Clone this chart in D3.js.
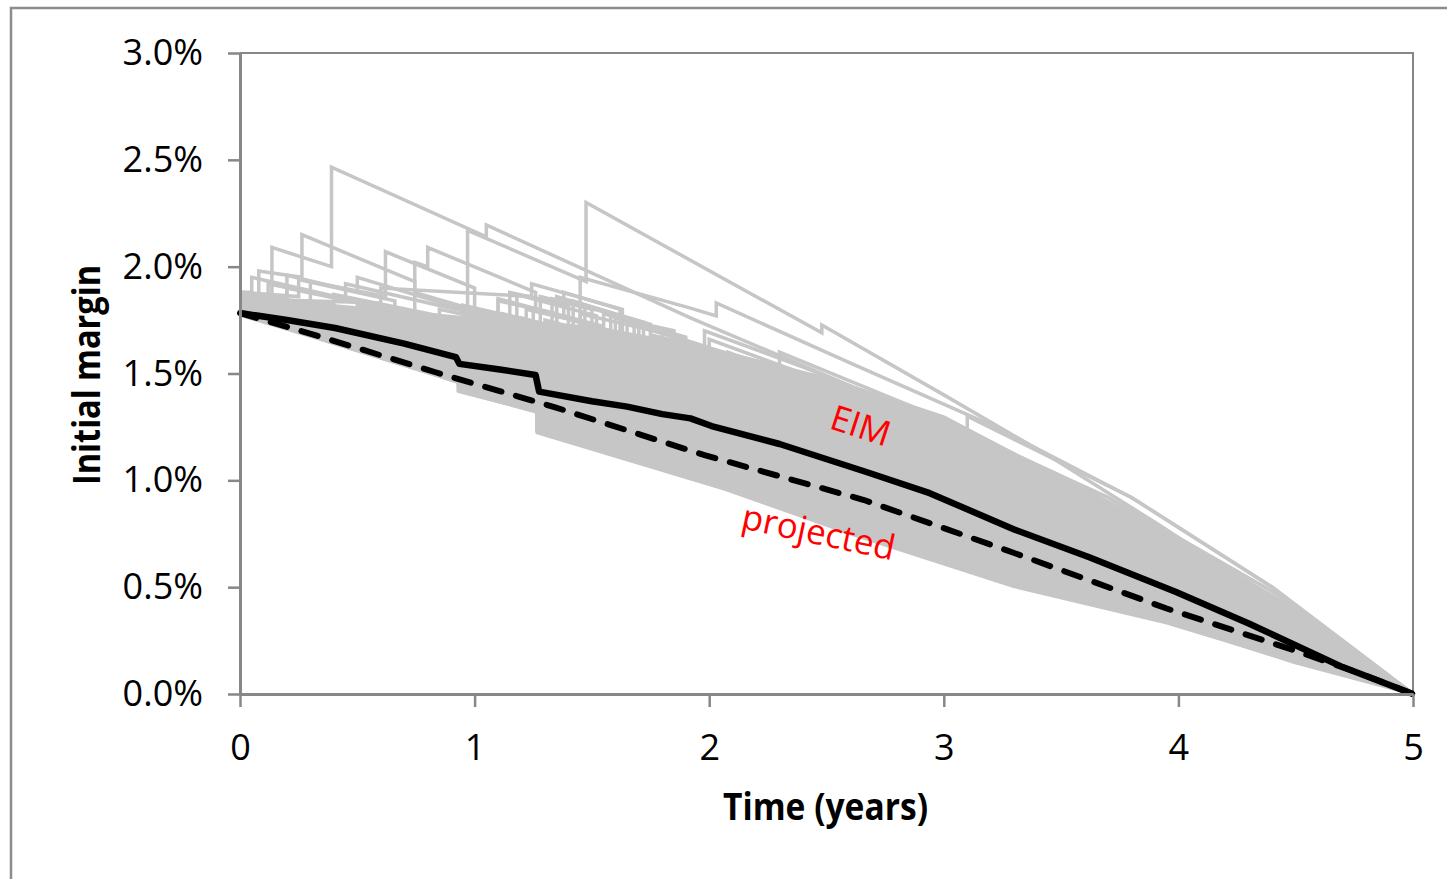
<!DOCTYPE html>
<html>
<head>
<meta charset="utf-8">
<script src="https://cdn.jsdelivr.net/npm/d3@7"></script>
<style>
  html, body { margin: 0; padding: 0; background: #fff; }
  svg { display: block; }
</style>
</head>
<body>
<svg id="chart" width="1447" height="879"></svg>
<script>
// ---------------- DATA (time in years, initial margin in %) ----------------
const xTickValues = [0, 1, 2, 3, 4, 5];
const yTickValues = [0, 0.5, 1.0, 1.5, 2.0, 2.5, 3.0];

// Black solid: EIM (expected initial margin)
const eimSeries = [[0,1.783],[0.2,1.75],[0.405,1.713],[0.7,1.64],[0.92,1.577],[0.935,1.545],[1.1,1.52],
  [1.26,1.493],[1.275,1.415],[1.5,1.37],[1.65,1.345],[1.8,1.31],[1.92,1.29],[2.01,1.254],[2.3,1.17],[2.67,1.039],[2.94,0.94],
  [3.30,0.77],[3.62,0.64],[3.99,0.477],[4.3,0.33],[4.7,0.126],[5,0]];

// Black dashed: projected
const projectedSeries = [[0,1.783],[0.32,1.68],[0.83,1.507],[1.34,1.343],[1.98,1.118],[2.66,0.908],
  [3.30,0.66],[3.95,0.40],[4.49,0.206],[4.77,0.098],[5,0]];

// Dense core of the simulated paths (upper and lower edge)
const bandUpper = [[0,1.86],[0.5,1.81],[1.0,1.76],[1.5,1.72],[2.0,1.62],[2.5,1.48],[3.0,1.30],
  [3.47,1.03],[3.92,0.78],[4.35,0.48],[4.77,0.17],[5,0]];
const bandLower = [[0,1.77],[0.32,1.665],[0.83,1.49],[0.93,1.455],[0.93,1.413],[1.265,1.32],[1.265,1.22],
  [2.07,0.955],[2.62,0.74],[3.3,0.50],[3.95,0.33],[4.49,0.15],[5,0]];

// Individual simulated paths (grey)
const pathO1 = [[0,1.84],[0.136,1.80],[0.136,2.09],[0.39,2.0],[0.39,2.466],[1.05,2.14],[1.05,2.195],[1.92,1.76],[2.48,1.50],[3.0,1.25],[3.5,0.99],[4.0,0.68],[4.5,0.36],[5,0]];
const pathO2 = [[0,1.85],[0.08,1.84],[0.08,1.98],[0.264,1.95],[0.264,2.15],[0.745,1.93],[0.745,1.88],[1.8,1.54],[1.8,1.58],[2.8,1.20],[3.6,0.85],[4.3,0.45],[5,0]];
const pathO3 = [[0,1.83],[0.30,1.78],[0.30,1.93],[0.62,1.86],[0.62,2.07],[1.0,1.90],[1.0,1.80],[1.9,1.56],[2.6,1.30],[3.4,0.95],[4.1,0.58],[4.7,0.22],[5,0]];
const pathO4 = [[0,1.82],[0.745,1.72],[0.745,2.02],[0.80,2.0],[0.80,2.09],[1.26,1.88],[1.26,1.80],[2.2,1.50],[3.0,1.18],[3.7,0.86],[4.3,0.52],[5,0]];
const pathO5 = [[0,1.80],[0.97,1.70],[0.97,2.17],[1.475,1.93],[1.475,2.30],[2.48,1.69],[2.48,1.727],[3.0,1.40],[3.47,1.10],[3.92,0.79],[4.35,0.48],[4.77,0.17],[5,0]];
const pathO6 = [[0,1.85],[0.6,1.83],[0.6,1.90],[1.243,1.86],[1.243,1.92],[1.63,1.80],[1.63,1.61],[2.5,1.33],[3.3,1.00],[4.0,0.66],[4.6,0.28],[5,0]];
const pathO7 = [[0,1.86],[1.45,1.62],[1.45,1.95],[1.92,1.806],[2.03,1.77],[2.03,1.83],[2.6,1.55],[3.2,1.26],[3.8,0.92],[4.4,0.50],[5,0]];
const pathO8 = [[0,1.84],[1.7,1.55],[1.7,1.72],[2.3,1.52],[2.3,1.60],[2.9,1.33],[3.5,1.02],[4.1,0.66],[4.6,0.32],[5,0]];
const pathO9 = [[0,1.87],[0.2,1.86],[0.2,1.96],[0.5,1.88],[0.5,1.95],[1.1,1.75],[1.1,1.85],[1.55,1.72],[1.55,1.78],[2.2,1.55],[2.8,1.30],[3.4,1.00],[4.0,0.65],[4.6,0.28],[5,0]];
const pathO10 = [[0,1.88],[0.05,1.88],[0.05,1.95],[0.45,1.85],[0.45,1.92],[1.0,1.78],[1.0,1.70],[1.35,1.62],[1.35,1.86],[1.75,1.73],[1.75,1.68],[2.45,1.45],[3.1,1.17],[3.8,0.80],[4.4,0.44],[5,0]];
const pathI1 = [[0,1.78],[0.93,1.46],[0.93,1.42],[1.265,1.32],[1.265,1.23],[2.07,0.96],[2.62,0.75],[3.3,0.51],[3.95,0.34],[4.49,0.15],[5,0]];
const pathI2 = [[0,1.79],[0.93,1.50],[0.93,1.45],[1.265,1.36],[1.265,1.26],[2.0,1.03],[2.6,0.82],[3.3,0.56],[4.0,0.36],[4.5,0.18],[5,0]];
const pathI3 = [[0,1.80],[0.93,1.53],[0.93,1.49],[1.265,1.40],[1.265,1.30],[2.0,1.08],[2.7,0.84],[3.4,0.58],[4.1,0.34],[5,0]];
const pathI4 = [[0,1.81],[0.93,1.56],[0.93,1.50],[1.265,1.41],[1.265,1.36],[2.1,1.10],[2.9,0.80],[3.6,0.52],[4.3,0.26],[5,0]];
const pathI5 = [[0,1.82],[0.93,1.60],[0.93,1.55],[1.265,1.46],[1.265,1.38],[1.9,1.20],[2.7,0.92],[3.5,0.62],[4.3,0.30],[5,0]];
const pathI6 = [[0,1.83],[0.93,1.63],[1.265,1.53],[1.265,1.44],[2.2,1.15],[3.0,0.85],[3.8,0.52],[4.5,0.22],[5,0]];
const pathI7 = [[0,1.84],[0.7,1.70],[0.7,1.74],[1.265,1.58],[1.265,1.50],[2.3,1.17],[3.1,0.88],[3.9,0.52],[4.5,0.24],[5,0]];
const pathI8 = [[0,1.85],[0.9,1.70],[1.265,1.62],[1.265,1.55],[1.6,1.46],[1.6,1.52],[2.4,1.25],[3.2,0.93],[4.0,0.55],[4.6,0.22],[5,0]];
const pathI9 = [[0,1.86],[0.5,1.78],[0.5,1.82],[1.2,1.68],[1.2,1.76],[1.55,1.66],[1.55,1.60],[2.5,1.28],[3.3,0.95],[4.0,0.60],[4.6,0.25],[5,0]];
const pathI10 = [[0,1.87],[1.1,1.70],[1.1,1.84],[1.35,1.78],[1.35,1.66],[2.05,1.48],[2.05,1.40],[2.8,1.15],[3.6,0.80],[4.3,0.42],[5,0]];
const pathI11 = [[0,1.85],[1.15,1.67],[1.15,1.88],[1.4,1.82],[1.4,1.70],[1.7,1.63],[1.7,1.57],[2.6,1.30],[3.4,0.98],[4.1,0.60],[4.7,0.20],[5,0]];
const pathI12 = [[0,1.84],[1.28,1.60],[1.28,1.86],[1.5,1.80],[1.5,1.64],[1.95,1.53],[1.95,1.62],[2.6,1.40],[3.3,1.08],[3.9,0.74],[4.5,0.36],[5,0]];
const pathI13 = [[0,1.83],[1.33,1.58],[1.33,1.85],[1.58,1.78],[1.58,1.68],[2.1,1.54],[2.1,1.46],[3.0,1.14],[3.7,0.80],[4.4,0.40],[5,0]];
const pathI14 = [[0,1.86],[0.2,1.84],[0.2,1.90],[0.85,1.75],[0.85,1.80],[1.45,1.66],[1.45,1.78],[1.8,1.69],[1.8,1.55],[2.7,1.27],[3.5,0.92],[4.2,0.53],[4.8,0.15],[5,0]];
const pathI15 = [[0,1.88],[0.25,1.86],[0.25,1.94],[0.66,1.84],[0.66,1.80],[1.6,1.60],[1.6,1.76],[1.85,1.70],[1.85,1.60],[2.75,1.32],[3.6,0.93],[4.3,0.50],[5,0]];
const pathI16 = [[0,1.87],[0.12,1.86],[0.12,1.92],[1.0,1.72],[1.0,1.78],[1.75,1.60],[1.75,1.68],[2.02,1.61],[2.02,1.54],[2.9,1.25],[3.7,0.88],[4.4,0.46],[5,0]];
const pathF1 = [[0,1.86],[1.18,1.66],[1.18,1.87],[1.52,1.77],[1.52,1.70],[2.0,1.57],[2.0,1.66],[2.5,1.46],[3.2,1.12],[3.9,0.76],[4.5,0.38],[5,0]];
const pathF2 = [[0,1.85],[1.22,1.65],[1.22,1.80],[1.38,1.76],[1.38,1.88],[1.62,1.80],[1.62,1.64],[2.08,1.52],[2.08,1.60],[2.7,1.35],[3.4,1.02],[4.1,0.64],[4.7,0.22],[5,0]];
const pathF3 = [[0,1.84],[1.3,1.62],[1.3,1.75],[1.68,1.64],[1.68,1.74],[1.9,1.67],[1.9,1.58],[2.55,1.38],[3.3,1.03],[4.0,0.66],[4.6,0.28],[5,0]];
const pathF4 = [[0,1.86],[0.95,1.72],[0.95,1.82],[1.42,1.70],[1.42,1.84],[1.65,1.76],[1.65,1.62],[2.2,1.46],[2.2,1.54],[2.9,1.27],[3.6,0.93],[4.3,0.50],[5,0]];
const pathF5 = [[0,1.85],[1.12,1.68],[1.12,1.78],[1.47,1.68],[1.47,1.82],[1.72,1.74],[1.72,1.60],[1.98,1.53],[1.98,1.70],[2.4,1.53],[3.0,1.27],[3.7,0.92],[4.4,0.48],[5,0]];
const pathF6 = [[0,1.87],[0.4,1.82],[0.4,1.87],[1.25,1.68],[1.25,1.80],[1.58,1.70],[1.58,1.58],[2.12,1.44],[2.12,1.58],[2.7,1.36],[3.5,0.98],[4.2,0.58],[4.8,0.16],[5,0]];
const pathR1 = [[0,1.83],[2.3,1.40],[2.3,1.52],[3.1,1.22],[3.1,1.30],[3.8,0.92],[4.4,0.50],[5,0]];

const greyPaths = [pathI1, pathI2, pathI3, pathI4, pathI5, pathI6, pathI7, pathI8, pathI9, pathI10,
  pathI11, pathI12, pathI13, pathI14, pathI15, pathI16,
  pathF1, pathF2, pathF3, pathF4, pathF5, pathF6, pathR1,
  pathO1, pathO2, pathO3, pathO4, pathO5, pathO6, pathO7, pathO8, pathO9, pathO10];

// ---------------- CHART ----------------
const svg = d3.select("#chart");
const plotLeft = 240, plotRight = 1413, plotTop = 53, plotBottom = 694;

const x = d3.scaleLinear().domain([0, 5]).range([plotLeft, plotRight]);
const y = d3.scaleLinear().domain([0, 3]).range([plotBottom, plotTop]);

const axisGrey = "#878787";
const pathGrey = "#c6c6c6";

// outer chart frame
svg.append("rect")
  .attr("x", 11).attr("y", 8)
  .attr("width", 1500).attr("height", 1000)
  .attr("fill", "none").attr("stroke", "#8c8c8c").attr("stroke-width", 2.5);

// plot frame (top & right)
svg.append("path")
  .attr("d", `M${plotLeft},${plotTop}H${plotRight}V${plotBottom}`)
  .attr("fill", "none").attr("stroke", axisGrey).attr("stroke-width", 2);

const line = d3.line().x(d => x(d[0])).y(d => y(d[1]));

// dense band
svg.append("path")
  .attr("d", line(bandUpper.concat(bandLower.slice().reverse())) + "Z")
  .attr("fill", pathGrey).attr("stroke", pathGrey).attr("stroke-width", 2);

// grey paths
svg.append("g").selectAll("path").data(greyPaths).join("path")
  .attr("d", line)
  .attr("fill", "none").attr("stroke", pathGrey).attr("stroke-width", 3.5)
  .attr("stroke-linejoin", "miter");

// projected (dashed)
svg.append("path")
  .attr("d", line(projectedSeries))
  .attr("fill", "none").attr("stroke", "#000").attr("stroke-width", 6)
  .attr("stroke-dasharray", "17,15").attr("stroke-linecap", "round");

// EIM (solid)
svg.append("path")
  .attr("d", line(eimSeries))
  .attr("fill", "none").attr("stroke", "#000").attr("stroke-width", 6.5)
  .attr("stroke-linejoin", "round");

// axes
const fmt = d3.format(".1%");
const yAxis = d3.axisLeft(y).tickValues(yTickValues).tickSize(12).tickSizeOuter(0)
  .tickPadding(25).tickFormat(d => fmt(d / 100));
const gy = svg.append("g").attr("transform", `translate(${plotLeft},0)`).call(yAxis);

const xAxis = d3.axisBottom(x).tickValues(xTickValues).tickSize(13).tickSizeOuter(0)
  .tickPadding(27).tickFormat(d3.format("d"));
const gx = svg.append("g").attr("transform", `translate(0,${plotBottom})`).call(xAxis);

[gx, gy].forEach(g => {
  g.select(".domain").attr("stroke", axisGrey).attr("stroke-width", 3);
  g.selectAll(".tick line").attr("stroke", axisGrey).attr("stroke-width", 2.5);
  g.selectAll(".tick text").attr("fill", "#000")
    .style("font-family", "'Open Sans', sans-serif").style("font-size", "36px");
});

// axis titles
svg.append("text")
  .attr("transform", "translate(100,375) rotate(-90)")
  .attr("text-anchor", "middle")
  .attr("textLength", 220).attr("lengthAdjust", "spacingAndGlyphs")
  .style("font-family", "'Open Sans', sans-serif").style("font-weight", "bold").style("font-size", "38px")
  .text("Initial margin");

svg.append("text")
  .attr("x", 825.5).attr("y", 820)
  .attr("text-anchor", "middle")
  .attr("textLength", 205).attr("lengthAdjust", "spacingAndGlyphs")
  .style("font-family", "'Open Sans', sans-serif").style("font-weight", "bold").style("font-size", "38px")
  .text("Time (years)");

// series labels
svg.append("text")
  .attr("transform", "translate(828,428) rotate(18)")
  .attr("fill", "#ff0000")
  .style("font-family", "'Open Sans', sans-serif").style("font-size", "35px")
  .text("EIM");

svg.append("text")
  .attr("transform", "translate(740,528) rotate(12)")
  .attr("fill", "#ff0000")
  .style("font-family", "'Open Sans', sans-serif").style("font-size", "35px")
  .text("projected");
</script>
</body>
</html>
